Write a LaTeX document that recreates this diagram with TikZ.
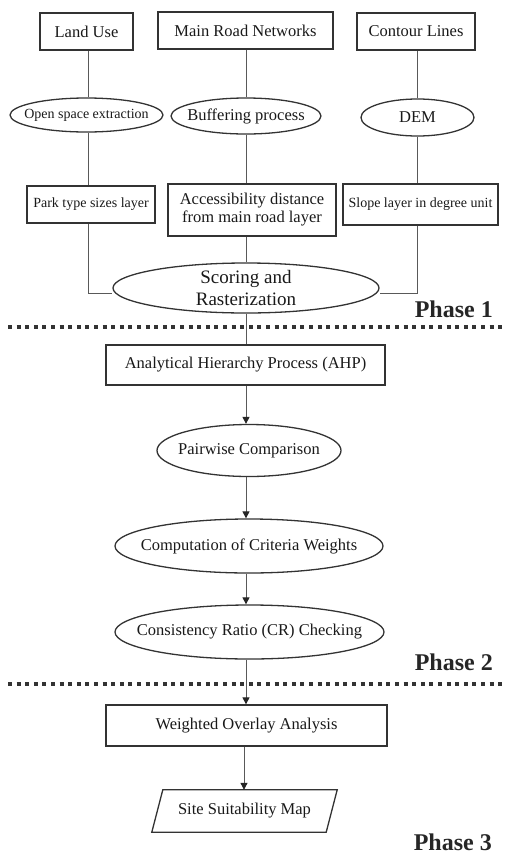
\documentclass[tikz,border=0pt]{standalone}
\usepackage{fontspec}
\setmainfont{Liberation Serif}
\usetikzlibrary{shapes.geometric,arrows.meta,calc}
\begin{document}
\begin{tikzpicture}[x=1pt,y=-1pt,
  txt/.style={text=black!90, font=\fontsize{16.5}{18}\selectfont, inner sep=0pt, align=center},
  smalltxt/.style={text=black!90, font=\fontsize{14}{16}\selectfont, inner sep=0pt, align=center},
  boxnode/.style={draw=black!80, line width=1.3pt, rectangle},
  ellnode/.style={draw=black!80, line width=1.3pt, ellipse, inner sep=0pt},
  link/.style={draw=black!65, line width=1pt},
  arrowlink/.style={link, -{Triangle[length=7pt,width=7pt,color=black!85]}},
  divider/.style={line width=3.8pt, draw=black!80, dash pattern=on 4pt off 4.6pt},
  phase/.style={font=\fontsize{24}{26}\selectfont\bfseries, text=black!85, inner sep=0pt, anchor=east}
]
\useasboundingbox (0,0) rectangle (504,855);

% top row
\node[boxnode, txt, minimum width=93pt, minimum height=37pt] (lu) at (86.5,31.5) {Land Use};
\node[boxnode, txt, minimum width=175pt, minimum height=37pt] (mr) at (245.5,30.5) {Main Road Networks};
\node[boxnode, txt, minimum width=118pt, minimum height=37pt] (cl) at (416,31.5) {Contour Lines};

% ellipses (outline nodes, then their texts)
\node[ellnode, minimum width=153pt, minimum height=34pt] (ose) at (86.5,115) {};
\node[smalltxt] (oset) at (ose.center) {Open space extraction};
\node[ellnode, minimum width=150pt, minimum height=36pt] (buf) at (246,116) {};
\node[txt] (buft) at (buf.center) {Buffering process};
\node[ellnode, minimum width=113pt, minimum height=37pt] (dem) at (417.5,117.5) {};
\node[txt] (demt) at (dem.center) {DEM};

% layers
\node[boxnode, smalltxt, minimum width=128pt, minimum height=37pt] (park) at (91,204.5) {Park type sizes layer};
\node[boxnode, txt, minimum width=168pt, minimum height=52pt] (acc) at (252,210) {Accessibility distance\\from main road layer};
\node[boxnode, smalltxt, minimum width=155pt, minimum height=41pt] (slope) at (420.5,204.5) {Slope layer in degree unit};

% scoring
\node[ellnode, minimum width=266pt, minimum height=50pt] (score) at (246,288) {};
\node[txt, font=\fontsize{19}{22.5}\selectfont] (scoret) at (score.center) {Scoring and\\Rasterization};

% column coordinates
\coordinate (cL) at (88,0);
\coordinate (cM) at (246.5,0);
\coordinate (cR) at (417,0);
\coordinate (hy) at (0,293);

\draw[link] (lu.south -| cL) -- (ose.north -| cL);
\draw[link] (ose.south -| cL) -- (park.north -| cL);
\draw[link] (park.south -| cL) -- (hy -| cL) -- (hy -| score.west);
\draw[link] (mr.south -| cM) -- (buf.north -| cM);
\draw[link] (buf.south -| cM) -- (acc.north -| cM);
\draw[link] (acc.south -| cM) -- (score.north -| cM);
\draw[link] (cl.south -| cR) -- (dem.north -| cR);
\draw[link] (dem.south -| cR) -- (slope.north -| cR);
\draw[link] (slope.south -| cR) -- (hy -| cR) -- (hy -| score.east);

% phase 1 divider
\coordinate (d1a) at (8,327);
\coordinate (d1b) at (504,327);
\node[phase] (p1) at (493,309) {Phase 1};

% phase 2
\node[boxnode, txt, minimum width=279pt, minimum height=40pt] (ahp) at (245.5,365) {Analytical Hierarchy Process (AHP)};
\node[ellnode, minimum width=184pt, minimum height=52pt] (pair) at (249,450.5) {};
\node[txt] (pairt) at (pair.center) {Pairwise Comparison};
\node[ellnode, minimum width=268pt, minimum height=54pt] (comp) at (249,546) {};
\node[txt] (compt) at (comp.center) {Computation of Criteria Weights};
\node[ellnode, minimum width=269pt, minimum height=54pt] (cons) at (249.5,632) {};
\node[txt] (const) at (cons.center) {Consistency Ratio (CR) Checking};
\node[phase] (p2) at (493,662) {Phase 2};
\coordinate (d2a) at (8,684);
\coordinate (d2b) at (504,684);

% phase 3
\node[boxnode, txt, minimum width=281pt, minimum height=41pt] (woa) at (246.5,725.5) {Weighted Overlay Analysis};
\node[txt, minimum width=185pt, minimum height=42pt] (site) at (244.5,811) {Site Suitability Map};
\draw[draw=black!80, line width=1.3pt] (site.south west) -- ($(site.north west)+(11,0)$) -- (site.north east) -- ($(site.south east)+(-11,0)$) -- cycle;
\node[phase] (p3) at (492,842) {Phase 3};

\coordinate (cA) at (246,0);
\coordinate (cB) at (244,0);
\draw[link] (score.south -| cA) -- (ahp.north -| cA);
\draw[arrowlink] (ahp.south -| cA) -- (pair.north -| cA);
\draw[arrowlink] (pair.south -| cA) -- (comp.north -| cA);
\draw[arrowlink] (comp.south -| cA) -- (cons.north -| cA);
\draw[arrowlink] (cons.south -| cA) -- (woa.north -| cA);
\draw[arrowlink] (woa.south -| cB) -- (site.north -| cB);

\draw[divider] (d1a) -- (d1b);
\draw[divider] (d2a) -- (d2b);
\end{tikzpicture}
\end{document}
